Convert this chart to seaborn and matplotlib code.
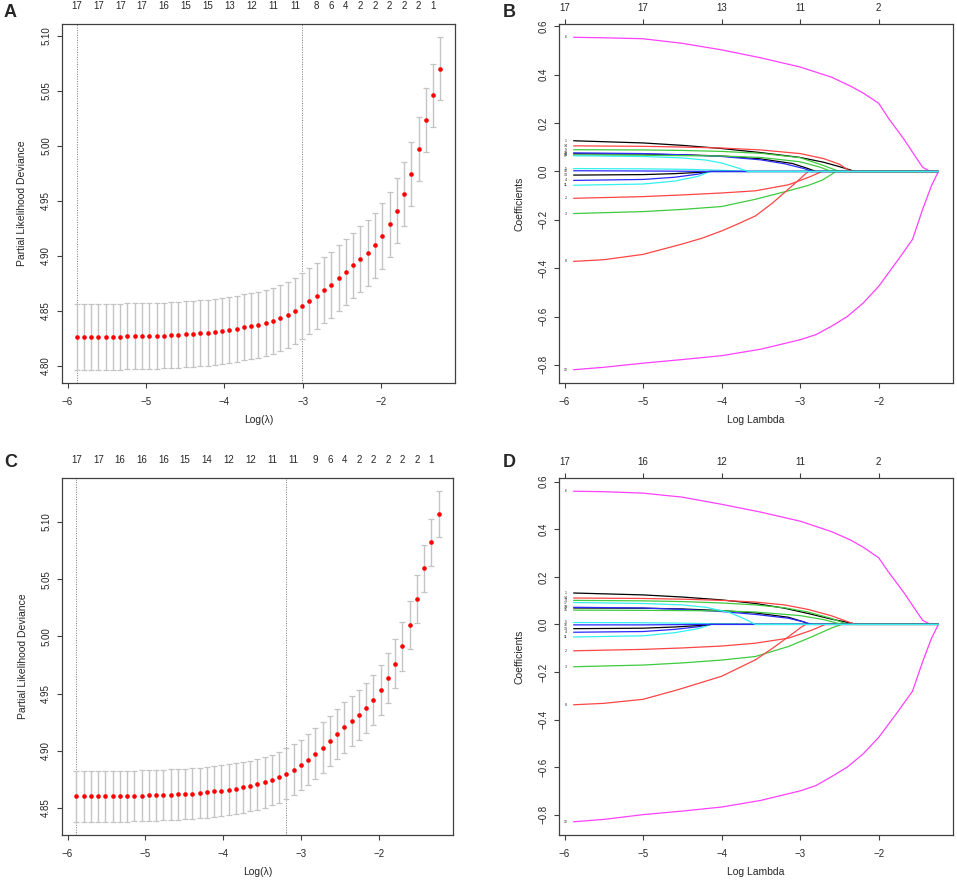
import numpy as np
import pandas as pd
import seaborn as sns
import matplotlib
matplotlib.use("Agg")
import matplotlib.pyplot as plt

# log(lambda) sequence of the cv fits (51 values)
log_lambda = [-5.885, -5.792, -5.699, -5.606, -5.513, -5.420, -5.328, -5.235, -5.142, -5.049,
              -4.956, -4.863, -4.770, -4.677, -4.584, -4.492, -4.399, -4.306, -4.213, -4.120,
              -4.027, -3.934, -3.841, -3.748, -3.655, -3.563, -3.470, -3.377, -3.284, -3.191,
              -3.098, -3.005, -2.912, -2.819, -2.726, -2.634, -2.541, -2.448, -2.355, -2.262,
              -2.169, -2.076, -1.983, -1.890, -1.797, -1.704, -1.612, -1.519, -1.426, -1.333,
              -1.240]

# panel A: partial likelihood deviance, mean and sd
cvm_A = [4.8264, 4.8264, 4.8264, 4.8264, 4.8264, 4.8264, 4.8264, 4.8267, 4.8267, 4.8270,
         4.8270, 4.8273, 4.8275, 4.8278, 4.8281, 4.8285, 4.8289, 4.8295, 4.8302, 4.8310,
         4.8318, 4.8327, 4.8337, 4.8348, 4.8360, 4.8374, 4.8391, 4.8411, 4.8434, 4.8463,
         4.8499, 4.8541, 4.8590, 4.8638, 4.8690, 4.8738, 4.8796, 4.8851, 4.8912, 4.8969,
         4.9027, 4.9094, 4.9179, 4.9285, 4.9410, 4.9562, 4.9744, 4.9969, 5.0236, 5.0461,
         5.0701]
cvsd_A = [0.0300, 0.0300, 0.0300, 0.0300, 0.0300, 0.0300, 0.0300, 0.0300, 0.0300, 0.0300,
          0.0300, 0.0300, 0.0300, 0.0300, 0.0300, 0.0300, 0.0300, 0.0300, 0.0300, 0.0300,
          0.0300, 0.0300, 0.0300, 0.0300, 0.0300, 0.0300, 0.0300, 0.0300, 0.0300, 0.0300,
          0.0300, 0.0300, 0.0300, 0.0300, 0.0300, 0.0300, 0.0300, 0.0300, 0.0299, 0.0299,
          0.0299, 0.0298, 0.0297, 0.0296, 0.0295, 0.0293, 0.0292, 0.0290, 0.0289, 0.0287,
          0.0286]

# panel C
cvm_C = [4.8602, 4.8602, 4.8602, 4.8602, 4.8602, 4.8602, 4.8603, 4.8604, 4.8606, 4.8608,
         4.8610, 4.8612, 4.8614, 4.8617, 4.8620, 4.8623, 4.8627, 4.8632, 4.8638, 4.8645,
         4.8652, 4.8660, 4.8669, 4.8680, 4.8693, 4.8708, 4.8725, 4.8745, 4.8770, 4.8800,
         4.8835, 4.8876, 4.8922, 4.8975, 4.9027, 4.9085, 4.9147, 4.9205, 4.9260, 4.9316,
         4.9377, 4.9447, 4.9534, 4.9636, 4.9761, 4.9913, 5.0100, 5.0327, 5.0595, 5.0822,
         5.1067]
cvsd_C = [0.0222, 0.0222, 0.0222, 0.0222, 0.0222, 0.0222, 0.0222, 0.0222, 0.0222, 0.0222,
          0.0222, 0.0222, 0.0222, 0.0222, 0.0222, 0.0222, 0.0222, 0.0222, 0.0222, 0.0222,
          0.0222, 0.0222, 0.0222, 0.0222, 0.0222, 0.0222, 0.0222, 0.0222, 0.0222, 0.0221,
          0.0221, 0.0221, 0.0221, 0.0221, 0.0221, 0.0221, 0.0221, 0.0221, 0.0220, 0.0220,
          0.0220, 0.0219, 0.0218, 0.0217, 0.0216, 0.0214, 0.0212, 0.0210, 0.0207, 0.0205,
          0.0202]

lam_min_A, lam_1se_A = -5.885, -3.005
lam_min_C, lam_1se_C = -5.885, -3.191

# number of non-zero coefficients shown on top of A / C
nz_idx = [0, 3, 6, 9, 12, 15, 18, 21, 24, 27, 30, 33, 35, 37, 39, 41, 43, 45, 47, 49]
nz_A = [17, 17, 17, 17, 16, 15, 15, 13, 12, 11, 11, 8, 6, 4, 2, 2, 2, 2, 2, 1]
nz_C = [17, 17, 16, 16, 16, 15, 14, 12, 12, 11, 11, 9, 6, 4, 2, 2, 2, 2, 2, 1]

# top axis of B / D
df_ticks = [-6, -5, -4, -3, -2]
df_B = [17, 17, 13, 11, 2]
df_D = [17, 16, 12, 11, 2]

# coefficient paths (log lambda, coefficient), variables 1..17
path_B = {
    1: [(-5.885, 0.127), (-5.0, 0.118), (-4.5, 0.108), (-4.0, 0.095), (-3.5, 0.078), (-3.0, 0.058), (-2.7, 0.038), (-2.5, 0.020), (-2.30, 0.0)],
    2: [(-5.885, -0.111), (-5.0, -0.104), (-4.5, -0.097), (-4.0, -0.089), (-3.57, -0.080), (-3.15, -0.055), (-2.9, -0.025), (-2.72, 0.0)],
    3: [(-5.885, -0.174), (-5.0, -0.166), (-4.5, -0.157), (-4.0, -0.145), (-3.57, -0.115), (-3.15, -0.080), (-2.9, -0.058), (-2.72, -0.036), (-2.6, -0.012), (-2.55, 0.0)],
    4: [(-5.885, -0.037), (-5.0, -0.033), (-4.6, -0.024), (-4.3, -0.011), (-4.15, 0.0)],
    5: [(-5.885, 0.012), (-5.0, 0.011), (-4.5, 0.009), (-4.0, 0.005), (-3.70, 0.0)],
    6: [(-5.885, 0.555), (-5.5, 0.553), (-5.0, 0.549), (-4.5, 0.530), (-4.0, 0.503), (-3.5, 0.470), (-3.0, 0.432), (-2.6, 0.390),
        (-2.36, 0.353), (-2.2, 0.325), (-2.0, 0.282), (-1.875, 0.220), (-1.68, 0.134), (-1.55, 0.070), (-1.44, 0.017), (-1.40, 0.010), (-1.34, 0.0)],
    7: [(-5.885, 0.073), (-5.0, 0.072), (-4.5, 0.069), (-4.0, 0.064), (-3.5, 0.052), (-3.1, 0.033), (-2.9, 0.012), (-2.80, 0.0)],
    8: [(-5.885, -0.372), (-5.5, -0.365), (-5.0, -0.343), (-4.5, -0.300), (-4.25, -0.276), (-4.0, -0.246), (-3.8, -0.218), (-3.57, -0.184),
        (-3.35, -0.130), (-3.15, -0.073), (-3.0, -0.030), (-2.90, 0.0)],
    9: [(-5.885, 0.090), (-5.0, 0.089), (-4.5, 0.087), (-4.0, 0.083), (-3.5, 0.075), (-3.0, 0.057), (-2.75, 0.030), (-2.50, 0.0)],
    10: [(-5.885, 0.077), (-5.0, 0.074), (-4.5, 0.069), (-4.0, 0.062), (-3.5, 0.048), (-3.2, 0.032), (-2.95, 0.012), (-2.85, 0.0)],
    11: [(-5.885, -0.057), (-5.0, -0.052), (-4.6, -0.040), (-4.3, -0.020), (-4.15, 0.0)],
    12: [(-5.885, -0.820), (-5.5, -0.810), (-5.0, -0.793), (-4.5, -0.778), (-4.0, -0.762), (-3.5, -0.735), (-3.0, -0.696), (-2.8, -0.675),
         (-2.6, -0.640), (-2.4, -0.600), (-2.2, -0.545), (-2.0, -0.475), (-1.75, -0.364), (-1.57, -0.281), (-1.44, -0.156), (-1.33, -0.060), (-1.24, 0.0)],
    13: [(-5.885, -0.015), (-5.0, -0.013), (-4.6, -0.009), (-4.3, -0.004), (-4.15, 0.0)],
    14: [(-5.885, 0.106), (-5.0, 0.104), (-4.5, 0.101), (-4.0, 0.097), (-3.5, 0.089), (-3.0, 0.074), (-2.7, 0.053), (-2.5, 0.030), (-2.36, 0.0)],
    15: [(-5.885, 0.068), (-5.0, 0.067), (-4.0, 0.064), (-3.5, 0.058), (-3.0, 0.040), (-2.75, 0.018), (-2.60, 0.0)],
    16: [(-5.885, 0.003), (-5.0, 0.002), (-4.5, 0.001), (-4.15, 0.0)],
    17: [(-5.885, 0.065), (-5.0, 0.062), (-4.5, 0.056), (-4.2, 0.047), (-4.0, 0.035), (-3.8, 0.015), (-3.66, 0.0)],
}
path_D = {
    1: [(-5.885, 0.132), (-5.0, 0.124), (-4.5, 0.115), (-4.0, 0.103), (-3.57, 0.088), (-3.2, 0.068), (-2.9, 0.046), (-2.6, 0.022), (-2.27, 0.0)],
    2: [(-5.885, -0.111), (-5.0, -0.105), (-4.5, -0.099), (-4.0, -0.091), (-3.57, -0.079), (-3.15, -0.058), (-2.85, -0.024), (-2.68, 0.0)],
    3: [(-5.885, -0.178), (-5.0, -0.171), (-4.5, -0.162), (-4.0, -0.150), (-3.57, -0.135), (-3.15, -0.093), (-2.85, -0.052), (-2.6, -0.015), (-2.47, 0.0)],
    4: [(-5.885, -0.033), (-5.0, -0.030), (-4.6, -0.021), (-4.3, -0.010), (-4.13, 0.0)],
    5: [(-5.885, 0.008), (-5.0, 0.007), (-4.5, 0.005), (-4.0, 0.002), (-3.60, 0.0)],
    6: [(-5.885, 0.560), (-5.5, 0.558), (-5.0, 0.552), (-4.5, 0.535), (-4.0, 0.505), (-3.5, 0.472), (-3.0, 0.434), (-2.6, 0.390),
        (-2.36, 0.355), (-2.2, 0.325), (-2.0, 0.280), (-1.875, 0.220), (-1.68, 0.134), (-1.55, 0.070), (-1.44, 0.017), (-1.40, 0.010), (-1.34, 0.0)],
    7: [(-5.885, 0.069), (-5.0, 0.068), (-4.5, 0.065), (-4.0, 0.058), (-3.57, 0.048), (-3.15, 0.030), (-2.95, 0.010), (-2.89, 0.0)],
    8: [(-5.885, -0.338), (-5.5, -0.332), (-5.0, -0.315), (-4.55, -0.274), (-4.0, -0.218), (-3.57, -0.149), (-3.35, -0.100),
        (-3.15, -0.052), (-2.98, -0.010), (-2.93, 0.0)],
    9: [(-5.885, 0.101), (-5.0, 0.099), (-4.5, 0.096), (-4.0, 0.090), (-3.57, 0.082), (-3.2, 0.070), (-2.9, 0.052), (-2.6, 0.025), (-2.40, 0.0)],
    10: [(-5.885, 0.072), (-5.0, 0.069), (-4.5, 0.063), (-4.0, 0.054), (-3.57, 0.042), (-3.15, 0.026), (-2.95, 0.010), (-2.85, 0.0)],
    11: [(-5.885, -0.053), (-5.0, -0.048), (-4.6, -0.035), (-4.3, -0.018), (-4.13, 0.0)],
    12: [(-5.885, -0.830), (-5.5, -0.820), (-5.0, -0.800), (-4.5, -0.785), (-4.0, -0.768), (-3.5, -0.740), (-3.0, -0.700), (-2.8, -0.678),
         (-2.6, -0.640), (-2.4, -0.600), (-2.2, -0.545), (-2.0, -0.475), (-1.75, -0.364), (-1.57, -0.281), (-1.44, -0.156), (-1.33, -0.060), (-1.24, 0.0)],
    13: [(-5.885, -0.018), (-5.0, -0.016), (-4.6, -0.011), (-4.3, -0.005), (-4.13, 0.0)],
    14: [(-5.885, 0.111), (-5.0, 0.109), (-4.5, 0.106), (-4.0, 0.101), (-3.57, 0.094), (-3.2, 0.082), (-2.9, 0.063), (-2.6, 0.036), (-2.30, 0.0)],
    15: [(-5.885, 0.060), (-5.0, 0.059), (-4.0, 0.057), (-3.57, 0.052), (-3.0, 0.037), (-2.7, 0.020), (-2.47, 0.0)],
    16: [(-5.885, -0.002), (-5.0, -0.002), (-4.13, 0.0)],
    17: [(-5.885, 0.092), (-5.0, 0.088), (-4.5, 0.082), (-4.2, 0.072), (-3.9, 0.050), (-3.72, 0.025), (-3.57, 0.0)],
}

# R default palette 1:6
r_cols = ["black", "#FF4545", "#3FCB3F", "#2B2BFF", "#35F0F0", "#FF40FF"]

sns.set_style("white")
plt.rcParams["font.family"] = ["Liberation Sans", "DejaVu Sans"]
plt.rcParams["axes.edgecolor"] = "#404040"
plt.rcParams["axes.linewidth"] = 0.9

W, H = 957, 886
fig = plt.figure(figsize=(W / 100, H / 100), dpi=100)


def add_box(left, top, right, bottom):
    return fig.add_axes([left / W, 1 - bottom / H, (right - left) / W, (bottom - top) / H])


def style_axes(ax, xlabel, ylabel):
    ax.set_xticks(df_ticks)
    ax.set_xticklabels([str(t).replace("-", "\u2212") for t in df_ticks])
    ax.tick_params(axis="both", direction="out", length=3.8, width=0.8, color="#404040",
                   labelsize=7, left=True, bottom=True)
    ax.tick_params(axis="x", pad=6)
    ax.tick_params(axis="y", pad=4)
    for lab in ax.get_yticklabels():
        lab.set_rotation(90)
        lab.set_va("center")
    ax.set_xlabel(xlabel, fontsize=7.5)
    ax.set_ylabel(ylabel, fontsize=7.5)
    ax.xaxis.set_label_coords(0.5, -0.09)
    ax.yaxis.set_label_coords(-0.088, 0.5)


def cv_panel(ax, cvm, cvsd, lam_min, lam_1se, nz, yticks):
    df = pd.DataFrame({"loglam": log_lambda, "cvm": cvm, "cvsd": cvsd})
    lo = (df.cvm - df.cvsd).min()
    hi = (df.cvm + df.cvsd).max()
    ax.set_ylim(lo - 0.04 * (hi - lo), hi + 0.04 * (hi - lo))
    xr = df.loglam.max() - df.loglam.min()
    ax.set_xlim(df.loglam.min() - 0.04 * xr, df.loglam.max() + 0.04 * xr)
    ax.errorbar(df.loglam, df.cvm, yerr=df.cvsd, fmt="none", ecolor="#C4C4C4",
                elinewidth=1.0, capsize=2.4, capthick=0.9, zorder=1)
    sns.scatterplot(data=df, x="loglam", y="cvm", color="red", s=11, linewidth=0,
                    ax=ax, zorder=3, legend=False)
    ax.axvline(lam_min, ls=(0, (1, 1.5)), color="#777777", lw=0.7, zorder=0)
    ax.axvline(lam_1se, ls=(0, (1, 1.5)), color="#777777", lw=0.7, zorder=0)
    ax.set_yticks(yticks)
    ax.set_yticklabels([f"{v:.2f}" for v in yticks])
    top = ax.secondary_xaxis("top")
    top.set_xticks([log_lambda[i] for i in nz_idx])
    top.set_xticklabels([str(n) for n in nz])
    top.tick_params(length=0, labelsize=7, pad=9.5)
    top.spines["top"].set_visible(False)
    style_axes(ax, "Log(\u03bb)", "Partial Likelihood Deviance")


def coef_panel(ax, paths, df_top):
    rows = []
    for var, pts in paths.items():
        pts = pts + [(log_lambda[-1], 0.0)] if pts[-1][0] < log_lambda[-1] else pts
        for x, y in pts:
            rows.append({"var": var, "loglam": x, "coef": y})
    df = pd.DataFrame(rows)
    for var in sorted(paths):
        sub = df[df["var"] == var]
        sns.lineplot(data=sub, x="loglam", y="coef", color=r_cols[(var - 1) % 6], lw=0.9,
                     sort=False, estimator=None, ax=ax, legend=False)
        ax.text(-5.985, sub.coef.iloc[0], str(var), fontsize=2.6, ha="center", va="center")
    lo, hi = df.coef.min(), df.coef.max()
    ax.set_ylim(lo - 0.04 * (hi - lo), hi + 0.04 * (hi - lo))
    xr = log_lambda[-1] - log_lambda[0]
    ax.set_xlim(log_lambda[0] - 0.04 * xr, log_lambda[-1] + 0.04 * xr)
    yt = [-0.8, -0.6, -0.4, -0.2, 0.0, 0.2, 0.4, 0.6]
    ax.set_yticks(yt)
    ax.set_yticklabels([f"{v:.1f}".replace("-", "\u2212") for v in yt])
    top = ax.secondary_xaxis("top")
    top.set_xticks(df_ticks)
    top.set_xticklabels([str(n) for n in df_top])
    top.tick_params(direction="out", length=3.8, width=0.8, color="#404040", labelsize=7, pad=4)
    top.spines["top"].set_visible(False)
    style_axes(ax, "Log Lambda", "Coefficients")


axA = add_box(62, 24, 455, 383)
cv_panel(axA, cvm_A, cvsd_A, lam_min_A, lam_1se_A, nz_A, [4.80, 4.85, 4.90, 4.95, 5.00, 5.05, 5.10])
axB = add_box(559, 24, 953, 383)
coef_panel(axB, path_B, df_B)
axC = add_box(62, 478, 453, 835)
cv_panel(axC, cvm_C, cvsd_C, lam_min_C, lam_1se_C, nz_C, [4.85, 4.90, 4.95, 5.00, 5.05, 5.10])
axD = add_box(559, 478, 953, 835)
coef_panel(axD, path_D, df_D)

for lab, x, y in [("A", 4, 4), ("B", 503, 4), ("C", 4, 454), ("D", 503, 454)]:
    fig.text(x / W, 1 - y / H, lab, fontsize=13, fontweight="bold", ha="left", va="top")

fig.savefig("out.png", dpi=100)
